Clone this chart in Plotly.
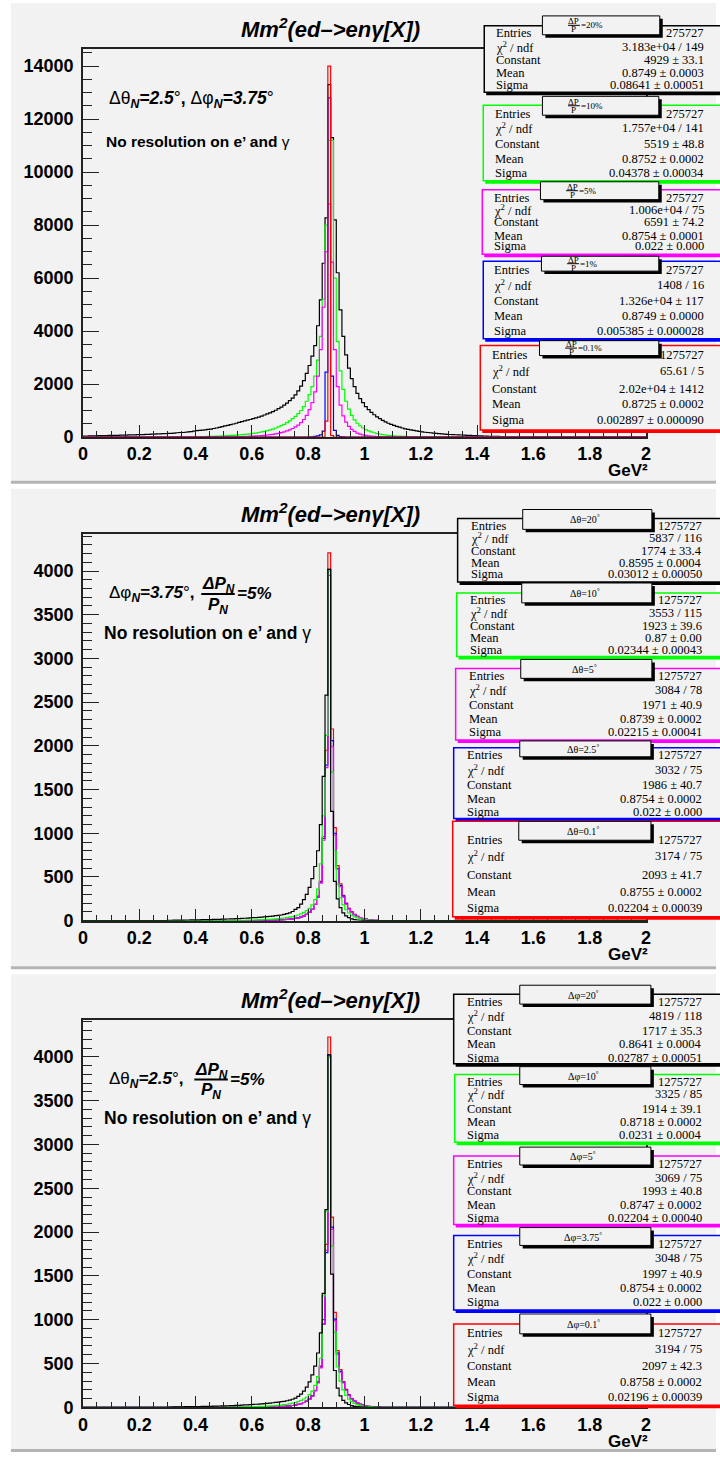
import plotly.graph_objects as go

W, H = 720, 1465
BIN = 0.01

# ---------------- data : panel 1 (Delta P / P scan), counts per 0.01 bin ----------------
p1_black_x0 = 0.00
p1_black = [30, 30, 40, 40, 40, 50, 50, 50, 50, 60,            # 0.00-0.09
            60, 60, 60, 70, 70, 70, 80, 80, 80, 90,            # 0.10
            90, 90, 100, 100, 110, 110, 120, 120, 130, 130,    # 0.20
            140, 140, 150, 160, 170, 170, 180, 190, 200, 220,  # 0.30
            240, 250, 260, 270, 290, 300, 320, 340, 360, 390,  # 0.40
            420, 440, 470, 490, 520, 550, 580, 610, 640, 660,  # 0.50
            690, 720, 750, 790, 830, 870, 910, 960, 1010, 1070,        # 0.60
            1130, 1200, 1280, 1370, 1470, 1590, 1740, 1920, 2130, 2400,  # 0.70
            2700, 3050, 3450, 4200, 5180, 6560, 8270, 13300, 11300, 8200,  # 0.80
            6200, 4800, 3800, 3100, 2600, 2200, 1900, 1650, 1450, 1300,  # 0.90
            1150, 1030, 930, 840, 760, 690, 630, 570, 520, 480,  # 1.00
            440, 400, 370, 340, 310, 290, 270, 250, 230, 210,    # 1.10
            190, 180, 170, 160, 150, 140, 130, 120, 110, 100,    # 1.20
            95, 90, 85, 80, 75, 70, 65, 60, 55, 50,              # 1.30
            45, 40, 35, 30, 28, 25, 22, 20, 18, 15]              # 1.40
p1_green_x0 = 0.40
p1_green = [10, 10, 15, 15, 20, 20, 25, 30, 35, 40,            # 0.40
            45, 50, 60, 65, 70, 80, 90, 100, 110, 120,         # 0.50
            140, 150, 170, 190, 210, 240, 270, 300, 340, 380,  # 0.60
            430, 480, 540, 610, 690, 780, 880, 1000, 1150, 1350,  # 0.70
            1600, 1900, 2300, 2900, 3800, 5200, 8000, 11200, 11200, 6000,  # 0.80
            3600, 2500, 1800, 1350, 1050, 820, 650, 520, 420, 340,  # 0.90
            280, 230, 190, 160, 130, 110, 90, 75, 60, 50,      # 1.00
            42, 35, 30, 25, 20, 17, 14, 12, 10, 8,             # 1.10
            7, 6, 5, 4, 3, 3, 2, 2, 1, 1]                      # 1.20
p1_magenta_x0 = 0.50
p1_magenta = [5, 5, 8, 10, 12, 15, 18, 22, 26, 30,             # 0.50
              35, 40, 48, 55, 65, 75, 88, 100, 120, 140,       # 0.60
              165, 195, 230, 270, 320, 380, 450, 540, 660, 820,  # 0.70
              1030, 1300, 1700, 2300, 3300, 4900, 7000, 8800, 6600, 3300,  # 0.80
              1900, 1200, 800, 560, 400, 290, 210, 150, 110, 80,  # 0.90
              60, 45, 35, 25, 18, 13, 9, 6, 4, 2]              # 1.00
p1_blue_x0 = 0.80
p1_blue = [5, 10, 20, 40, 80, 220, 2450, 12800, 2300, 250, 60, 15, 5]
p1_red_x0 = 0.85
p1_red = [0, 600, 14000, 50, 0]

# ---------------- data : panel 2 (Delta theta scan) ----------------
p2_black_x0 = 0.30
p2_black = [5, 5, 6, 6, 7, 7, 8, 8, 9, 9,                      # 0.30
            10, 10, 11, 12, 12, 13, 14, 15, 16, 17,            # 0.40
            18, 19, 20, 21, 23, 24, 26, 28, 30, 32,            # 0.50
            34, 36, 38, 41, 44, 47, 50, 53, 57, 61,            # 0.60
            65, 72, 80, 90, 105, 130, 150, 190, 240, 300,      # 0.70
            380, 480, 620, 800, 1100, 1650, 2580, 4018, 1250, 450,  # 0.80
            250, 150, 90, 55, 35, 20, 12, 8, 5, 3,             # 0.90
            2, 1]
p2_green_x0 = 0.50
p2_green = [2, 2, 3, 3, 4, 4, 5, 5, 6, 7,                      # 0.50
            8, 9, 10, 11, 12, 14, 16, 18, 20, 23,              # 0.60
            26, 30, 35, 40, 47, 55, 65, 78, 95, 115,           # 0.70
            140, 180, 240, 360, 650, 1200, 2120, 4000, 1700, 800,  # 0.80
            420, 260, 180, 125, 88, 62, 44, 31, 22, 15,        # 0.90
            10, 7, 5, 3, 2, 1]
p2_magenta_x0 = 0.60
p2_magenta = [2, 2, 3, 3, 4, 4, 5, 6, 7, 8,                    # 0.60
              10, 12, 14, 17, 21, 26, 33, 42, 55, 72,          # 0.70
              95, 130, 185, 270, 430, 920, 1750, 3950, 1990, 980,  # 0.80
              590, 390, 270, 190, 135, 95, 68, 48, 34, 24,     # 0.90
              17, 12, 8, 5, 3, 2, 1]
p2_blue_x0 = 0.60
p2_blue = [2, 2, 3, 3, 4, 4, 5, 6, 7, 8,                       # 0.60
           10, 12, 14, 17, 21, 26, 33, 42, 55, 72,             # 0.70
           95, 130, 185, 270, 440, 940, 1780, 4020, 2060, 1000,  # 0.80
           600, 400, 280, 195, 138, 97, 70, 49, 35, 25,        # 0.90
           17, 12, 8, 5, 3, 2, 1]
p2_red_x0 = 0.60
p2_red = [2, 2, 3, 3, 4, 4, 5, 6, 7, 8,                        # 0.60
          10, 12, 14, 17, 21, 26, 33, 42, 55, 72,              # 0.70
          95, 130, 190, 280, 450, 960, 1950, 4207, 2193, 1064,  # 0.80
          629, 420, 290, 200, 142, 100, 72, 50, 36, 25,        # 0.90
          17, 12, 8, 5, 3, 2, 1]

# ---------------- data : panel 3 (Delta phi scan) ----------------
p3_black_x0 = 0.30
p3_black = [4, 4, 5, 5, 6, 6, 7, 7, 8, 8,                      # 0.30
            9, 9, 10, 11, 11, 12, 13, 14, 15, 16,              # 0.40
            17, 18, 19, 20, 22, 23, 25, 27, 29, 31,            # 0.50
            33, 35, 37, 40, 43, 46, 49, 52, 56, 60,            # 0.60
            64, 69, 75, 82, 92, 105, 125, 150, 185, 230,       # 0.70
            290, 370, 470, 620, 850, 1300, 2257, 4026, 1519, 420,  # 0.80
            220, 130, 80, 50, 32, 20, 12, 8, 5, 3,             # 0.90
            2, 1]
p3_green_x0 = 0.50
p3_green = [2, 2, 3, 3, 4, 4, 5, 5, 6, 7,                      # 0.50
            8, 9, 10, 11, 12, 14, 16, 18, 20, 23,              # 0.60
            26, 30, 35, 40, 47, 55, 65, 78, 95, 115,           # 0.70
            145, 185, 250, 350, 560, 1272, 2240, 4000, 1840, 856,  # 0.80
            460, 300, 200, 135, 92, 64, 45, 31, 22, 15,        # 0.90
            10, 7, 5, 3, 2, 1]
p3_magenta_x0 = 0.60
p3_magenta = [2, 2, 3, 3, 4, 4, 5, 6, 7, 8,                    # 0.60
              10, 12, 14, 17, 21, 26, 33, 42, 55, 72,          # 0.70
              95, 130, 190, 280, 450, 950, 1790, 4000, 2030, 990,  # 0.80
              600, 400, 280, 195, 138, 97, 70, 49, 35, 25,     # 0.90
              17, 12, 8, 5, 3, 2, 1]
p3_blue_x0 = 0.60
p3_blue = [2, 2, 3, 3, 4, 4, 5, 6, 7, 8,                       # 0.60
           10, 12, 14, 17, 21, 26, 33, 42, 55, 72,             # 0.70
           95, 130, 190, 285, 460, 950, 1765, 4020, 2056, 1007,  # 0.80
           620, 410, 285, 198, 140, 98, 70, 49, 35, 25,        # 0.90
           17, 12, 8, 5, 3, 2, 1]
p3_red_x0 = 0.60
p3_red = [2, 2, 3, 3, 4, 4, 5, 6, 7, 8,                        # 0.60
          10, 12, 14, 17, 21, 26, 33, 42, 55, 72,              # 0.70
          95, 130, 195, 290, 470, 1000, 1860, 4226, 2170, 1083,  # 0.80
          648, 430, 295, 205, 145, 100, 72, 50, 36, 25,        # 0.90
          17, 12, 8, 5, 3, 2, 1]

# ---------------- tick labels ----------------
x_tickvals = [0, 0.2, 0.4, 0.6, 0.8, 1.0, 1.2, 1.4, 1.6, 1.8, 2.0]
x_ticktext = ["0", "0.2", "0.4", "0.6", "0.8", "1", "1.2", "1.4", "1.6", "1.8", "2"]
p1_ytickvals = [0, 2000, 4000, 6000, 8000, 10000, 12000, 14000]
p23_ytickvals = [0, 500, 1000, 1500, 2000, 2500, 3000, 3500, 4000]

# ---------------- stat-box texts ----------------
stat_labels = ["Entries", "χ<sup>2</sup> / ndf", "Constant", "Mean", "Sigma"]
p1_titles = ["=20%", "=10%", "=5%", "=1%", "=0.1%"]
p1_stats = [["275727", "3.183e+04 / 149", "4929 ± 33.1", "0.8749 ± 0.0003", "0.08641 ± 0.00051"],
            ["275727", "1.757e+04 / 141", "5519 ± 48.8", "0.8752 ± 0.0002", "0.04378 ± 0.00034"],
            ["275727", "1.006e+04 / 75", "6591 ± 74.2", "0.8754 ± 0.0001", "0.022 ± 0.000"],
            ["275727", "1408 / 16", "1.326e+04 ± 117", "0.8749 ± 0.0000", "0.005385 ± 0.000028"],
            ["1275727", "65.61 / 5", "2.02e+04 ± 1412", "0.8725 ± 0.0002", "0.002897 ± 0.000090"]]
p2_titles = ["Δθ=20", "Δθ=10", "Δθ=5", "Δθ=2.5", "Δθ=0.1"]
p2_stats = [["1275727", "5837 / 116", "1774 ± 33.4", "0.8595 ± 0.0004", "0.03012 ± 0.00050"],
            ["1275727", "3553 / 115", "1923 ± 39.6", "0.87 ± 0.00", "0.02344 ± 0.00043"],
            ["1275727", "3084 / 78", "1971 ± 40.9", "0.8739 ± 0.0002", "0.02215 ± 0.00041"],
            ["1275727", "3032 / 75", "1986 ± 40.7", "0.8754 ± 0.0002", "0.022 ± 0.000"],
            ["1275727", "3174 / 75", "2093 ± 41.7", "0.8755 ± 0.0002", "0.02204 ± 0.00039"]]
p3_titles = ["Δφ=20", "Δφ=10", "Δφ=5", "Δφ=3.75", "Δφ=0.1"]
p3_stats = [["1275727", "4819 / 118", "1717 ± 35.3", "0.8641 ± 0.0004", "0.02787 ± 0.00051"],
            ["1275727", "3325 / 85", "1914 ± 39.1", "0.8718 ± 0.0002", "0.0231 ± 0.0004"],
            ["1275727", "3069 / 75", "1993 ± 40.8", "0.8747 ± 0.0002", "0.02204 ± 0.00040"],
            ["1275727", "3048 / 75", "1997 ± 40.9", "0.8754 ± 0.0002", "0.022 ± 0.000"],
            ["1275727", "3194 / 75", "2097 ± 42.3", "0.8758 ± 0.0002", "0.02196 ± 0.00039"]]

COLORS = ["#000000", "#00ff00", "#ff00ff", "#0000ff", "#ff0000"]
PAD = "#f2f2f2"
SANS = "Liberation Sans"
SERIF = "Liberation Serif"


def px(x):
    return x / W


def py(y):
    return 1 - y / H


def step(x0, vals):
    n = len(vals)
    edges = [round(x0 + i * BIN, 4) for i in range(n + 1)]
    xs = [0.0] + edges[:-1] + [edges[-1], 2.0]
    ys = [0] + list(vals) + [0, 0]
    return xs, ys


fig = go.Figure()
shapes = []
annots = []

# pads
for top, bot in [(3, 484), (492, 973), (981, 1459)]:
    shapes.append(dict(type="rect", xref="paper", yref="paper", layer="below",
                       x0=px(6), x1=px(721), y0=py(bot), y1=py(top),
                       fillcolor=PAD, line=dict(width=0)))
    shapes.append(dict(type="rect", xref="paper", yref="paper", layer="below",
                       x0=px(6), x1=px(721), y0=py(bot + 3), y1=py(bot),
                       fillcolor="#b4b4b4", line=dict(width=0)))

panels = [
    dict(top=49, bot=440, ymax=14660, ytv=p1_ytickvals, ydt_minor=500, order=[0, 1, 2, 3, 4],
         series=[(p1_black_x0, p1_black), (p1_green_x0, p1_green), (p1_magenta_x0, p1_magenta),
                 (p1_blue_x0, p1_blue), (p1_red_x0, p1_red)]),
    dict(top=538, bot=927, ymax=4420, ytv=p23_ytickvals, ydt_minor=100, order=[4, 3, 2, 1, 0],
         series=[(p2_black_x0, p2_black), (p2_green_x0, p2_green), (p2_magenta_x0, p2_magenta),
                 (p2_blue_x0, p2_blue), (p2_red_x0, p2_red)]),
    dict(top=1027, bot=1417, ymax=4420, ytv=p23_ytickvals, ydt_minor=100, order=[4, 3, 2, 1, 0],
         series=[(p3_black_x0, p3_black), (p3_green_x0, p3_green), (p3_magenta_x0, p3_magenta),
                 (p3_blue_x0, p3_blue), (p3_red_x0, p3_red)]),
]

layout_axes = {}
for k, p in enumerate(panels, start=1):
    xa = "x" if k == 1 else f"x{k}"
    ya = "y" if k == 1 else f"y{k}"
    for ci in p["order"]:
        x0, vals = p["series"][ci]
        xs, ys = step(x0, vals)
        fig.add_trace(go.Scatter(x=xs, y=ys, mode="lines", line_shape="hv",
                                 line=dict(color=COLORS[ci], width=1.2),
                                 xaxis=xa, yaxis=ya, showlegend=False, hoverinfo="skip"))
    xkey = "xaxis" if k == 1 else f"xaxis{k}"
    ykey = "yaxis" if k == 1 else f"yaxis{k}"
    layout_axes[xkey] = dict(
        domain=[px(79), px(650)], range=[0, 2], anchor=ya,
        showline=True, linecolor="#222", linewidth=1.5, mirror=True,
        ticks="inside", ticklen=12, tickwidth=1, tickcolor="#222",
        tickvals=x_tickvals, ticktext=x_ticktext,
        minor=dict(ticks="inside", ticklen=6, dtick=0.05, tickcolor="#222", tickwidth=1),
        tickfont=dict(family=SANS, size=18, color="black", weight="bold"),
        showgrid=False, zeroline=False, fixedrange=True)
    layout_axes[ykey] = dict(
        domain=[py(p["bot"]), py(p["top"])], range=[0, p["ymax"]], anchor=xa,
        showline=True, linecolor="#222", linewidth=1.5, mirror=True,
        ticks="inside", ticklen=16, tickwidth=1, tickcolor="#222",
        tickvals=p["ytv"], ticktext=[str(v) for v in p["ytv"]],
        minor=dict(ticks="inside", ticklen=9, dtick=p["ydt_minor"], tickcolor="#222", tickwidth=1),
        tickfont=dict(family=SANS, size=18, color="black", weight="bold"),
        ticklabelstandoff=4,
        showgrid=False, zeroline=False, fixedrange=True)

    annots.append(dict(xref="paper", yref="paper", x=px(330), y=py(p["top"] - 21),
                       text="<b><i>Mm<sup>2</sup>(ed\u2013>en\u03b3[X])</i></b>", showarrow=False,
                       font=dict(family=SANS, size=22, color="black"), xanchor="center", yanchor="middle"))
    annots.append(dict(xref="paper", yref="paper", x=px(653), y=py(p["bot"] + 34),
                       text="<b>GeV²</b>", showarrow=False,
                       font=dict(family=SANS, size=17, color="black"), xanchor="right", yanchor="middle",
                       borderpad=0))

# panel text
annots.append(dict(xref="paper", yref="paper", x=px(103), y=py(100),
                   text="Δθ<sub><b><i>N</i></b></sub><b><i>=2.5</i></b>°<b>, </b>Δφ<sub><b><i>N</i></b></sub><b><i>=3.75</i></b>°",
                   showarrow=False, font=dict(family=SANS, size=17.5, color="black"),
                   xanchor="left", yanchor="middle"))
annots.append(dict(xref="paper", yref="paper", x=px(100), y=py(142),
                   text="<b>No resolution on e’ and </b>γ", showarrow=False,
                   font=dict(family=SANS, size=15.5, color="black"), xanchor="left", yanchor="middle"))

for off, first in [(0, "Δφ<sub><b><i>N</i></b></sub><b><i>=3.75</i></b>°<b>,</b>"),
                   (489, "Δθ<sub><b><i>N</i></b></sub><b><i>=2.5</i></b>°<b>,</b>")]:
    base = 490 + off
    annots.append(dict(xref="paper", yref="paper", x=px(103), y=py(base + 108),
                       text=first, showarrow=False, font=dict(family=SANS, size=17, color="black"),
                       xanchor="left", yanchor="middle"))
    fx = 216 if off == 0 else 209
    annots.append(dict(xref="paper", yref="paper", x=px(fx), y=py(base + 99),
                       text="<b><i>ΔP<sub>N</sub></i></b>", showarrow=False,
                       font=dict(family=SANS, size=17, color="black"), xanchor="center", yanchor="middle"))
    annots.append(dict(xref="paper", yref="paper", x=px(fx), y=py(base + 120),
                       text="<b><i>P<sub>N</sub></i></b>", showarrow=False,
                       font=dict(family=SANS, size=17, color="black"), xanchor="center", yanchor="middle"))
    shapes.append(dict(type="line", xref="paper", yref="paper", layer="above",
                       x0=px(fx - 17), x1=px(fx + 17), y0=py(base + 108), y1=py(base + 108),
                       line=dict(color="black", width=2)))
    annots.append(dict(xref="paper", yref="paper", x=px(fx + 17), y=py(base + 108),
                       text="<b><i>=5%</i></b>", showarrow=False,
                       font=dict(family=SANS, size=17, color="black"), xanchor="left", yanchor="middle"))
    annots.append(dict(xref="paper", yref="paper", x=px(98), y=py(base + 147),
                       text="<b>No resolution on e’ and </b>γ", showarrow=False,
                       font=dict(family=SANS, size=17.5, color="black"), xanchor="left", yanchor="middle"))

# stat boxes
box_geo = [
    [dict(l=486, t=26, b=93, tl=545, tr=664, tt=16, tb=35, rows=[33, 47, 60, 73, 86], lx=497),
     dict(l=485, t=106, b=182, tl=545, tr=663, tt=97, tb=116, rows=[115, 129, 145, 160, 174], lx=496),
     dict(l=484, t=191, b=256, tl=543, tr=663, tt=183, tb=201, rows=[199, 211, 224, 238, 248], lx=495),
     dict(l=485, t=263, b=341, tl=544, tr=663, tt=258, tb=273, rows=[272, 287, 303, 318, 333], lx=495),
     dict(l=482, t=348, b=433, tl=542, tr=663, tt=343, tb=358, rows=[357, 374, 392, 407, 423], lx=493)],
    [dict(l=459, t=522, b=586, tl=525, tr=656, tt=513, tb=533, rows=[530, 542, 555, 567, 578], lx=472),
     dict(l=458, t=597, b=661, tl=524, tr=656, tt=587, tb=607, rows=[604, 617, 630, 642, 654], lx=471),
     dict(l=457, t=673, b=745, tl=523, tr=656, tt=664, tb=683, rows=[681, 695, 710, 724, 737], lx=470),
     dict(l=455, t=753, b=824, tl=522, tr=655, tt=746, tb=762, rows=[760, 775, 790, 804, 818], lx=467),
     dict(l=454, t=827, b=923, tl=521, tr=655, tt=827, tb=846, rows=[846, 862, 881, 898, 914], lx=467)],
    [dict(l=455, t=1001, b=1071, tl=522, tr=655, tt=992, tb=1011, rows=[1009, 1023, 1038, 1051, 1065], lx=467),
     dict(l=456, t=1082, b=1150, tl=522, tr=655, tt=1074, tb=1092, rows=[1089, 1102, 1117, 1130, 1143], lx=467),
     dict(l=455, t=1164, b=1233, tl=522, tr=655, tt=1155, tb=1173, rows=[1172, 1186, 1199, 1213, 1226], lx=467),
     dict(l=455, t=1244, b=1319, tl=522, tr=655, tt=1236, tb=1254, rows=[1253, 1267, 1283, 1297, 1311], lx=467),
     dict(l=455, t=1333, b=1415, tl=522, tr=655, tt=1323, tb=1343, rows=[1342, 1358, 1375, 1391, 1407], lx=467)],
]
all_stats = [p1_stats, p2_stats, p3_stats]
all_titles = [p1_titles, p2_titles, p3_titles]

for pi in range(3):
    vx = 710 if pi == 0 else 708
    for bi, g in enumerate(box_geo[pi]):
        col = COLORS[bi]
        shapes.append(dict(type="rect", xref="paper", yref="paper", layer="above",
                           x0=px(g["l"] + 2), x1=px(730), y0=py(g["b"] + 3), y1=py(g["t"] + 3),
                           fillcolor=col, line=dict(width=0)))
        shapes.append(dict(type="rect", xref="paper", yref="paper", layer="above",
                           x0=px(g["l"]), x1=px(726), y0=py(g["b"]), y1=py(g["t"]),
                           fillcolor=PAD, line=dict(color=col, width=1.5)))
        for ri, lab in enumerate(stat_labels):
            annots.append(dict(xref="paper", yref="paper", x=px(g["lx"]), y=py(g["rows"][ri]),
                               text=lab, showarrow=False, font=dict(family=SERIF, size=12.5, color="black"),
                               xanchor="left", yanchor="middle", borderpad=0))
            annots.append(dict(xref="paper", yref="paper", x=px(vx), y=py(g["rows"][ri]),
                               text=all_stats[pi][bi][ri], showarrow=False,
                               font=dict(family=SERIF, size=12.5, color="black"),
                               xanchor="right", yanchor="middle", borderpad=0))
        shapes.append(dict(type="rect", xref="paper", yref="paper", layer="above",
                           x0=px(g["tl"] + 3), x1=px(g["tr"] + 3), y0=py(g["tb"] + 3), y1=py(g["tt"] + 3),
                           fillcolor="black", line=dict(width=0)))
        shapes.append(dict(type="rect", xref="paper", yref="paper", layer="above",
                           x0=px(g["tl"]), x1=px(g["tr"]), y0=py(g["tb"]), y1=py(g["tt"]),
                           fillcolor=PAD, line=dict(color="black", width=1)))
        tmid = (g["tt"] + g["tb"]) / 2
        if pi == 0:
            fx = g["tl"] + 32
            annots.append(dict(xref="paper", yref="paper", x=px(fx), y=py(tmid - 4),
                               text="ΔP", showarrow=False, font=dict(family=SERIF, size=9, color="black"),
                               xanchor="center", yanchor="middle", borderpad=0))
            annots.append(dict(xref="paper", yref="paper", x=px(fx), y=py(tmid + 4),
                               text="P", showarrow=False, font=dict(family=SERIF, size=9, color="black"),
                               xanchor="center", yanchor="middle", borderpad=0))
            shapes.append(dict(type="line", xref="paper", yref="paper", layer="above",
                               x0=px(fx - 6), x1=px(fx + 6), y0=py(tmid), y1=py(tmid),
                               line=dict(color="black", width=1)))
            annots.append(dict(xref="paper", yref="paper", x=px(fx + 6), y=py(tmid),
                               text=all_titles[pi][bi], showarrow=False,
                               font=dict(family=SERIF, size=9, color="black"),
                               xanchor="left", yanchor="middle", borderpad=0))
        else:
            annots.append(dict(xref="paper", yref="paper", x=px((g["tl"] + g["tr"]) / 2 - 2), y=py(tmid),
                               text=all_titles[pi][bi] + "<sup>°</sup>", showarrow=False,
                               font=dict(family=SERIF, size=10, color="black"),
                               xanchor="center", yanchor="middle", borderpad=0))

fig.update_layout(width=W, height=H, margin=dict(l=0, r=0, t=0, b=0),
                  paper_bgcolor="white", plot_bgcolor="rgba(0,0,0,0)",
                  shapes=shapes, annotations=annots, showlegend=False, **layout_axes)

fig.write_html("out.html")
